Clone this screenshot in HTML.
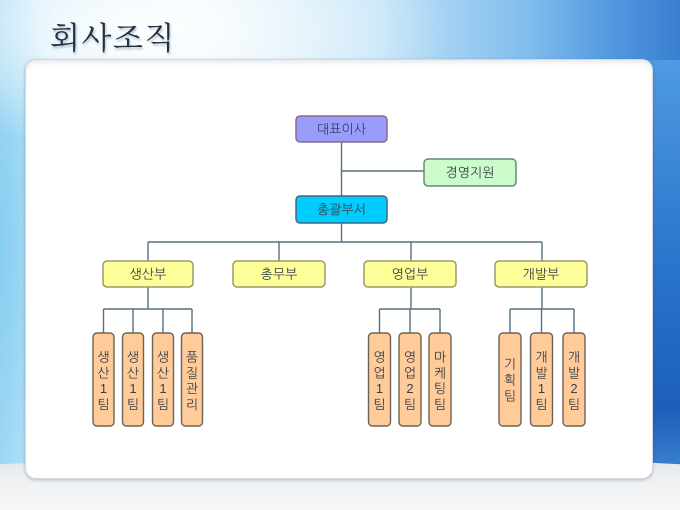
<!DOCTYPE html>
<html>
<head>
<meta charset="utf-8">
<style>
  html,body{margin:0;padding:0;width:680px;height:510px;overflow:hidden;}
  body{position:relative;
    background:
      radial-gradient(ellipse 300px 120px at 150px 30px, rgba(255,255,255,0.95) 0%, rgba(255,255,255,0) 100%),
      radial-gradient(ellipse 60px 300px at 0px 250px, rgba(120,200,240,0.7) 0%, rgba(120,200,240,0) 100%),
      linear-gradient(90deg, #a6daf4 0%, #d2ecf9 8%, #e6f4fb 30%, #c4e4f8 55%, #80bdee 78%, #5298e0 90%, #3a7ed0 100%);
  }
  .bottom{position:absolute;left:-120px;top:457px;width:920px;height:53px;
    border-radius:50% 50% 0 0 / 22px 22px 0 0;
    background:linear-gradient(#e2e6ea 0%, #eef0f2 40%, #f6f7f8 100%);}
  .rightblue{position:absolute;left:640px;top:60px;width:40px;height:410px;
    background:linear-gradient(180deg,#4f9ae2 0%,#2a74cc 50%,#1c5fb8 85%,#3a80d0 100%);}
  .panel{position:absolute;left:25px;top:59px;width:626px;height:418px;background:#fff;
    border-radius:11px;border:1px solid #d3d9df;
    box-shadow:0 1px 3px rgba(60,80,100,0.35), inset 0 6px 8px -6px rgba(120,130,140,0.35);}
  .title{position:absolute;left:50px;top:13px;font-family:"Liberation Serif","Noto Serif CJK SC",serif;
    font-size:31px;color:#1f2f44;letter-spacing:1.5px;
    text-shadow:1px 2px 2px rgba(60,80,100,0.35);}
  svg{position:absolute;left:0;top:0;}
  svg text{font-family:"Liberation Sans","NanumGothic","Noto Sans CJK KR",sans-serif;fill:#3a4048;}
</style>
</head>
<body>
<div class="rightblue"></div>
<div class="bottom"></div>
<div class="panel"></div>
<div class="title">회사조직</div>

<svg width="680" height="510" viewBox="0 0 680 510">
  <g stroke="#56707e" stroke-width="1.4" fill="none">
    <line x1="341.5" y1="142" x2="341.5" y2="196"/>
    <line x1="341.5" y1="171" x2="424" y2="171"/>
    <line x1="341.5" y1="223" x2="341.5" y2="242"/>
    <line x1="148" y1="242" x2="542" y2="242"/>
    <line x1="148" y1="242" x2="148" y2="261"/>
    <line x1="279" y1="242" x2="279" y2="261"/>
    <line x1="411" y1="242" x2="411" y2="261"/>
    <line x1="542" y1="242" x2="542" y2="261"/>
    <line x1="148" y1="287" x2="148" y2="309"/>
    <line x1="411" y1="287" x2="411" y2="309"/>
    <line x1="542" y1="287" x2="542" y2="309"/>
    <line x1="103.5" y1="309" x2="192" y2="309"/>
    <line x1="379.5" y1="309" x2="440" y2="309"/>
    <line x1="510" y1="309" x2="574" y2="309"/>
    <line x1="103.5" y1="309" x2="103.5" y2="333"/>
    <line x1="133" y1="309" x2="133" y2="333"/>
    <line x1="163" y1="309" x2="163" y2="333"/>
    <line x1="192" y1="309" x2="192" y2="333"/>
    <line x1="379.5" y1="309" x2="379.5" y2="333"/>
    <line x1="410" y1="309" x2="410" y2="333"/>
    <line x1="440" y1="309" x2="440" y2="333"/>
    <line x1="510" y1="309" x2="510" y2="333"/>
    <line x1="541.5" y1="309" x2="541.5" y2="333"/>
    <line x1="574" y1="309" x2="574" y2="333"/>
  </g>

  <!-- top boxes -->
  <rect x="296" y="116" width="91" height="26" rx="4" fill="#9a9cfb" stroke="#8a6a8e" stroke-width="1.5"/>
  <text x="341.5" y="133.5" font-size="13" text-anchor="middle" style="fill:#33446a">대표이사</text>
  <rect x="424" y="159" width="92" height="27" rx="4" fill="#ccfccc" stroke="#6a8a76" stroke-width="1.5"/>
  <text x="470" y="177" font-size="13" text-anchor="middle">경영지원</text>
  <rect x="296" y="196" width="91" height="27" rx="4" fill="#00ccfe" stroke="#3a6a88" stroke-width="1.5"/>
  <text x="341.5" y="214" font-size="13" text-anchor="middle">총괄부서</text>

  <!-- yellow -->
  <g fill="#ffff99" stroke="#9a9a6a" stroke-width="1.5">
    <rect x="103" y="261" width="90" height="26" rx="4"/>
    <rect x="233" y="261" width="92" height="26" rx="4"/>
    <rect x="364" y="261" width="92" height="26" rx="4"/>
    <rect x="495" y="261" width="92" height="26" rx="4"/>
  </g>
  <g font-size="13" text-anchor="middle">
    <text x="148" y="278.5">생산부</text>
    <text x="279" y="278.5">총무부</text>
    <text x="410" y="278.5">영업부</text>
    <text x="541" y="278.5">개발부</text>
  </g>

  <!-- orange -->
  <g fill="#ffcc99" stroke="#6e6256" stroke-width="1.4">
    <rect x="93" y="333" width="21" height="93" rx="4"/>
    <rect x="122.5" y="333" width="21" height="93" rx="4"/>
    <rect x="152.5" y="333" width="21" height="93" rx="4"/>
    <rect x="181.5" y="333" width="21" height="93" rx="4"/>
    <rect x="368.5" y="333" width="22" height="93" rx="4"/>
    <rect x="399" y="333" width="22" height="93" rx="4"/>
    <rect x="429" y="333" width="22" height="93" rx="4"/>
    <rect x="499" y="333" width="22" height="93" rx="4"/>
    <rect x="530.5" y="333" width="22" height="93" rx="4"/>
    <rect x="563" y="333" width="22" height="93" rx="4"/>
  </g>
  <g font-size="13" text-anchor="middle">
    <text x="103.5" y="361.5">생</text><text x="103.5" y="377.5">산</text><text x="103.5" y="393">1</text><text x="103.5" y="409">팀</text>
    <text x="133" y="361.5">생</text><text x="133" y="377.5">산</text><text x="133" y="393">1</text><text x="133" y="409">팀</text>
    <text x="163" y="361.5">생</text><text x="163" y="377.5">산</text><text x="163" y="393">1</text><text x="163" y="409">팀</text>
    <text x="192" y="361.5">품</text><text x="192" y="377.5">질</text><text x="192" y="393">관</text><text x="192" y="409">리</text>

    <text x="379.5" y="361.5">영</text><text x="379.5" y="377.5">업</text><text x="379.5" y="393">1</text><text x="379.5" y="409">팀</text>
    <text x="410" y="361.5">영</text><text x="410" y="377.5">업</text><text x="410" y="393">2</text><text x="410" y="409">팀</text>
    <text x="440" y="361.5">마</text><text x="440" y="377.5">케</text><text x="440" y="393">팅</text><text x="440" y="409">팀</text>

    <text x="510" y="368.5">기</text><text x="510" y="384.5">획</text><text x="510" y="400.5">팀</text>
    <text x="541.5" y="361.5">개</text><text x="541.5" y="377.5">발</text><text x="541.5" y="393">1</text><text x="541.5" y="409">팀</text>
    <text x="574" y="361.5">개</text><text x="574" y="377.5">발</text><text x="574" y="393">2</text><text x="574" y="409">팀</text>
  </g>
</svg>
</body>
</html>
